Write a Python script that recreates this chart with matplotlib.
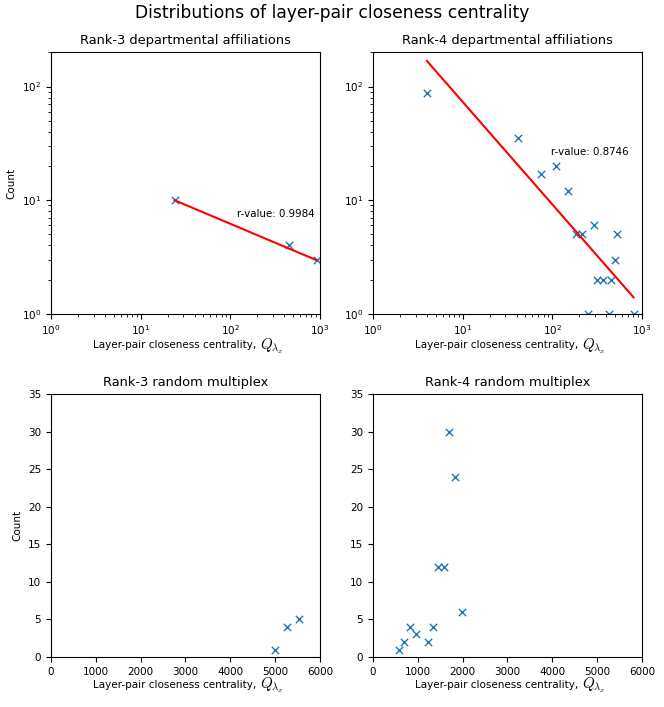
import numpy as np
import matplotlib
matplotlib.use('Agg')
import matplotlib.pyplot as plt

plt.rcParams['mathtext.fontset'] = 'cm'

# rank-3 departmental affiliations (log-log)
r3_dep_q = [24, 455, 918]
r3_dep_count = [10, 4, 3]
r3_fit = (1.459, -0.333)   # log10(count) = a + b*log10(q)
r3_rvalue = 0.9984

# rank-4 departmental affiliations (log-log)
r4_dep_q = [4, 41, 75, 111, 148, 185, 215, 290, 532, 501, 316, 372, 452, 251, 426, 807]
r4_dep_count = [88, 35, 17, 20, 12, 5, 5, 6, 5, 3, 2, 2, 2, 1, 1, 1]
r4_fit = (2.768, -0.902)
r4_rvalue = 0.8746

# random multiplex (linear)
r3_rand_q = [5000, 5260, 5540]
r3_rand_count = [1, 4, 5]
r4_rand_q = [585, 696, 837, 956, 1222, 1341, 1444, 1593, 1704, 1830, 1978]
r4_rand_count = [1, 2, 4, 3, 2, 4, 12, 12, 30, 24, 6]

fig = plt.figure(figsize=(6.64, 7.07), dpi=100)
ax1 = fig.add_axes([0.0768, 0.556, 0.405, 0.370])
ax2 = fig.add_axes([0.5617, 0.556, 0.405, 0.370])
ax3 = fig.add_axes([0.0768, 0.0707, 0.405, 0.372])
ax4 = fig.add_axes([0.5617, 0.0707, 0.405, 0.372])

fig.suptitle('Distributions of layer-pair closeness centrality', fontsize=12.3, y=0.995)


def set_xlabel(ax):
    # text part plus a bigger Q symbol right after it, sharing the baseline
    ax.set_xlabel('Layer-pair closeness centrality,', fontsize=7.5, labelpad=2)
    ax.xaxis.label.set_x(0.459)
    ax.annotate(r'$Q_{\lambda_x}$', xy=(1, 0), xycoords=ax.xaxis.label,
                xytext=(3, 0.3), textcoords='offset points',
                ha='left', va='baseline', fontsize=10.8)


def loglog_panel(ax, q, count, fit, rv, title, txt_pos):
    ax.scatter(q, count, marker='x', color='C0', s=28, linewidths=1)
    xs = np.array([min(q), max(q)], dtype=float)
    ax.plot(xs, 10 ** (fit[0] + fit[1] * np.log10(xs)), color='red')
    ax.set_xscale('log')
    ax.set_yscale('log')
    ax.set_xlim(1, 1000)
    ax.set_ylim(1, 200)
    ax.set_title(title, fontsize=9.4)
    set_xlabel(ax)
    ax.text(txt_pos[0], txt_pos[1], 'r-value: {:.4f}'.format(rv), fontsize=7.4, va='center')
    ax.tick_params(labelsize=7.5)


loglog_panel(ax1, r3_dep_q, r3_dep_count, r3_fit, r3_rvalue,
             'Rank-3 departmental affiliations', (120, 7.5))
loglog_panel(ax2, r4_dep_q, r4_dep_count, r4_fit, r4_rvalue,
             'Rank-4 departmental affiliations', (97, 26.4))
ax1.set_ylabel('Count', fontsize=7.5)

for ax, q, count, title in [(ax3, r3_rand_q, r3_rand_count, 'Rank-3 random multiplex'),
                            (ax4, r4_rand_q, r4_rand_count, 'Rank-4 random multiplex')]:
    ax.scatter(q, count, marker='x', color='C0', s=28, linewidths=1)
    ax.set_xlim(0, 6000)
    ax.set_ylim(0, 35)
    ax.set_title(title, fontsize=9.4)
    set_xlabel(ax)
    ax.tick_params(labelsize=7.5)
ax3.set_ylabel('Count', fontsize=7.5)

fig.savefig('out.png', dpi=100)
